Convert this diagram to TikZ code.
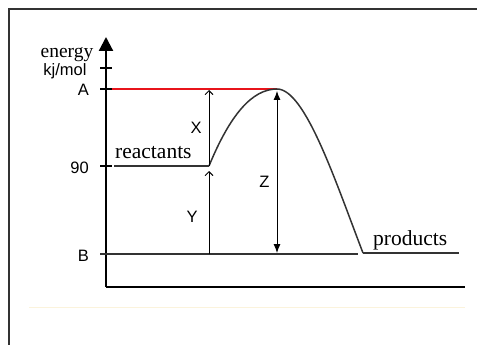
\documentclass[tikz,border=0pt]{standalone}
\usepackage{fontspec}
\setmainfont{Liberation Serif}
\setsansfont{Liberation Sans}
\usetikzlibrary{arrows.meta, positioning, calc}
\definecolor{cline}{HTML}{333333}
\definecolor{cred}{HTML}{E8141B}
\definecolor{cframe}{HTML}{333333}
\definecolor{cfaint}{HTML}{FBF3DC}
\tikzset{
  axis/.style={line width=2.2pt, draw=black},
  tickmark/.style={line width=1.8pt, draw=black},
  level/.style={line width=1.3pt, draw=cline},
  curve/.style={line width=1.5pt, draw=cline},
  gap/.style={-{Straight Barb[length=4pt,width=8pt]}, line width=0.9pt},
  span/.style={{Latex[length=9pt,width=7pt]}-{Latex[length=9pt,width=7pt]}, line width=0.9pt},
  word/.style={font=\fontsize{21.5}{24}\selectfont, inner sep=0pt},
  lab/.style={font=\sffamily\fontsize{16.5}{18}\selectfont, inner sep=0pt},
}

\begin{document}
\begin{tikzpicture}[x=1pt, y=-1pt]
  \useasboundingbox (0,0) rectangle (477,345);
  % frame round the figure
  \draw[line width=2.4pt, cframe] (9,345) -- (9,9) -- (477,9);
  \draw[cfaint, line width=1pt] (29,307) -- (465,307);

  % axes
  \coordinate (o) at (106,287);
  \coordinate (ytop) at (106,37);
  \coordinate (xend) at (465,287);
  \draw[axis, -{Triangle[length=14pt,width=14pt]}] (o) -- (ytop);
  \draw[axis] (o) -- (xend);

  % ticks on the energy axis
  \foreach \n/\y in {unit/68, A/89, R/166, B/254} {
    \coordinate (t\n) at (106,\y);
    \draw[tickmark] ($(t\n)+(-6,0)$) -- ($(t\n)+(6,0)$);
  }
  \node[word, font=\fontsize{19.5}{22}\selectfont, anchor=base] (energy) at (67,58) {energy};
  \node[lab, anchor=base] (unit) at (65,76) {kj/mol};
  \node[lab, left=17pt of tA, yshift=-1pt] (labA) {A};
  \node[lab, left=17pt of tR, yshift=-2pt] (labR) {90};
  \node[lab, left=17pt of tB, yshift=-2pt] (labB) {B};

  % energy levels
  \coordinate (peak) at (277,89);
  \coordinate (rs) at (114,166);
  \coordinate (re) at (209,166);
  \coordinate (bs) at (100,254);
  \coordinate (be) at (358,254);
  \coordinate (ps) at (363,253);
  \coordinate (pe) at (459,253);
  \draw[cred, line width=1.2pt] (112,89) -- (peak);
  \draw[level] (rs) -- (re);
  \draw[level] (bs) -- (be);
  \draw[level] (ps) -- (pe);
  \draw[curve] (re) .. controls (230,115) and (252,89) .. (peak)
               .. controls (305,89) and (335,180) .. (ps);
  \node[word, anchor=base west] (react) at (115,158) {reactants};
  \node[word, anchor=base west] (prod) at (373,245) {products};

  % gaps
  \coordinate (xtop) at (209,90);
  \coordinate (ybot) at (209,254);
  \coordinate (ytip) at (209,171);
  \coordinate (ztop) at (277,91);
  \coordinate (zbot) at (277,253);
  \draw[gap] (re) -- node[lab, left=7pt] (labX) {X} (xtop);
  \draw[gap] (ybot) -- node[lab, pos=0.45, left=11pt] (labY) {Y} (ytip);
  \draw[span] (ztop) -- node[lab, pos=0.56, left=7pt] (labZ) {Z} (zbot);
\end{tikzpicture}
\end{document}
